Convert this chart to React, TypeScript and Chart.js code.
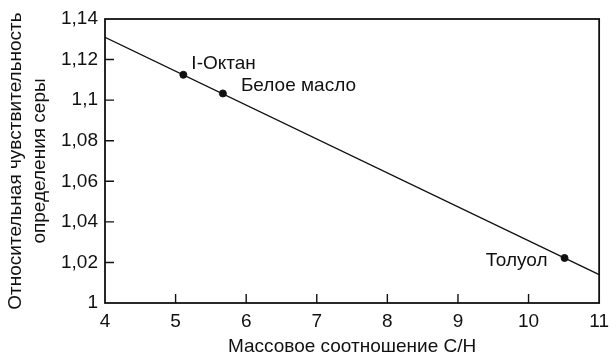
import React, { useEffect, useRef } from "react";
import { Chart, registerables } from "chart.js";

Chart.register(...registerables);

const xTicks = [4, 5, 6, 7, 8, 9, 10, 11];
const yTicks = [1, 1.02, 1.04, 1.06, 1.08, 1.1, 1.12, 1.14];
const fitX = [4, 11];
const fitY = [1.131, 1.014];
const pointNames = ["I-Октан", "Белое масло", "Толуол"];
const pointX = [5.11, 5.67, 10.51];
const pointY = [1.1125, 1.1033, 1.0222];
const xTitle = "Массовое соотношение С/Н";
const yTitle = ["Относительная чувствительность", "определения серы"];

const FONT = "'Liberation Sans', Arial, sans-serif";
const FS = 19;

const fmt = (v: number) => String(Math.round(v * 100) / 100).replace(".", ",");

const frame = {
  id: "frame",
  afterDraw(chart: any) {
    const { ctx, chartArea: a, scales } = chart;
    ctx.save();
    ctx.strokeStyle = "#111";
    ctx.lineWidth = 1.8;
    ctx.strokeRect(a.left, a.top, a.right - a.left, a.bottom - a.top);
    ctx.lineWidth = 1.4;
    ctx.beginPath();
    xTicks.forEach((t) => {
      if (t === xTicks[0] || t === xTicks[xTicks.length - 1]) return;
      const px = scales.x.getPixelForValue(t);
      ctx.moveTo(px, a.bottom);
      ctx.lineTo(px, a.bottom - 9);
    });
    yTicks.forEach((t) => {
      if (t === yTicks[0] || t === yTicks[yTicks.length - 1]) return;
      const py = scales.y.getPixelForValue(t);
      ctx.moveTo(a.left, py);
      ctx.lineTo(a.left + 9, py);
    });
    ctx.stroke();
    const meta = chart.getDatasetMeta(1);
    const offs = [
      { dx: 8, dy: -11, align: "left" },
      { dx: 18, dy: -8, align: "left" },
      { dx: -17, dy: 3, align: "right" },
    ];
    ctx.fillStyle = "#111";
    ctx.font = `${FS}px ${FONT}`;
    ctx.textBaseline = "middle";
    meta.data.forEach((el: any, i: number) => {
      const o = offs[i];
      ctx.textAlign = o.align;
      ctx.fillText(pointNames[i], el.x + o.dx, el.y + o.dy);
    });
    ctx.restore();
  },
};

export default function App() {
  const ref = useRef<HTMLCanvasElement | null>(null);
  useEffect(() => {
    document.body.style.margin = "0";
    const chart = new Chart(ref.current as HTMLCanvasElement, {
      type: "scatter",
      data: {
        datasets: [
          {
            type: "line",
            data: fitX.map((x, i) => ({ x, y: fitY[i] })),
            borderColor: "#111",
            borderWidth: 1.4,
            pointRadius: 0,
          },
          {
            data: pointX.map((x, i) => ({ x, y: pointY[i] })),
            backgroundColor: "#111",
            borderColor: "#111",
            pointRadius: 3.5,
          },
        ],
      },
      options: {
        animation: false,
        responsive: false,
        devicePixelRatio: 1,
        layout: { padding: { top: 19, right: 12, left: 0, bottom: 0 } },
        plugins: { legend: { display: false }, tooltip: { enabled: false } },
        scales: {
          x: {
            type: "linear",
            min: 4,
            max: 11,
            afterBuildTicks: (s: any) => {
              s.ticks = xTicks.map((v) => ({ value: v }));
            },
            afterFit: (s: any) => {
              s.height = 59;
            },
            grid: { display: false, drawTicks: false },
            border: { display: false },
            ticks: {
              color: "#111",
              font: { family: FONT, size: FS },
              padding: 7,
              maxRotation: 0,
              callback: (v: any) => fmt(Number(v)),
            },
            title: {
              display: true,
              text: xTitle,
              color: "#111",
              font: { family: FONT, size: FS },
              padding: { top: 0, bottom: 4 },
            },
          },
          y: {
            type: "linear",
            min: 1,
            max: 1.14,
            afterBuildTicks: (s: any) => {
              s.ticks = yTicks.map((v) => ({ value: v }));
            },
            afterFit: (s: any) => {
              s.width = 105;
            },
            grid: { display: false, drawTicks: false },
            border: { display: false },
            ticks: {
              color: "#111",
              font: { family: FONT, size: FS },
              padding: 7,
              callback: (v: any) => fmt(Number(v)),
            },
            title: {
              display: true,
              text: yTitle,
              color: "#111",
              font: { family: FONT, size: FS, lineHeight: 1.25 },
              padding: { top: 4, bottom: 0 },
            },
          },
        },
      },
      plugins: [frame],
    } as any);
    return () => chart.destroy();
  }, []);
  return (
    <div style={{ width: 616, height: 362 }}>
      <canvas ref={ref} width={616} height={362} style={{ display: "block" }} />
    </div>
  );
}
